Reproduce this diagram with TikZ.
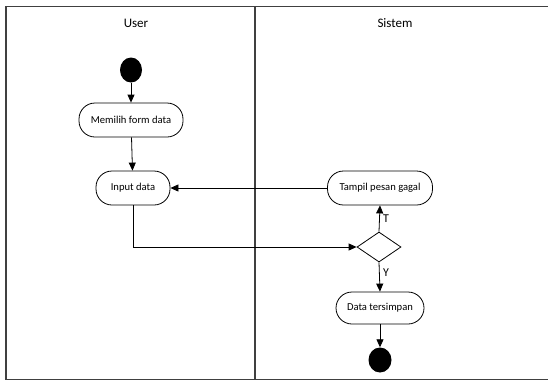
\documentclass[tikz,border=0pt]{standalone}
\usepackage{fontspec}
\setmainfont{Carlito}
\usetikzlibrary{arrows.meta,shapes.geometric}
\begin{document}
\begin{tikzpicture}[x=1pt,y=-1pt,
  lane/.style={draw=black!75,line width=1.3pt},
  act/.style={draw,rounded corners=16pt,line width=0.8pt,minimum height=34pt,
    inner sep=2pt,font=\fontsize{10.6}{12}\selectfont,align=center},
  dot/.style={fill=black,ellipse,inner sep=0pt,minimum width=22pt,minimum height=25pt},
  choice/.style={draw,diamond,aspect=1.47,line width=0.8pt,inner sep=0pt,minimum width=44pt,minimum height=30pt},
  flow/.style={-{Triangle[length=8pt,width=7pt]},line width=0.8pt},
  lbl/.style={font=\fontsize{13}{15}\selectfont},
  tag/.style={font=\fontsize{12}{14}\selectfont}]
\useasboundingbox (0,0) rectangle (548,381);
% swimlanes
\draw[lane] (549,6.5) -- (6,6.5) -- (6,379.5) -- (549,379.5);
\draw[lane] (255,6.5) -- (255,379.5);
\node[lbl] (laneU) at (136,23) {User};
\node[lbl] (laneS) at (395,23) {Sistem};
% nodes
\node[dot] (start) at (131,70) {};
\node[act,minimum width=104pt] (pilih) at (131,120) {Memilih form data};
\node[act,minimum width=74pt] (input) at (133,188) {Input data};
\node[act,minimum width=105pt] (gagal) at (380,188) {Tampil pesan gagal};
\node[choice] (cek) at (379,247) {};
\node[act,minimum width=88pt,minimum height=32pt] (simpan) at (380,308) {Data tersimpan};
\node[dot,minimum width=23pt] (end) at (380,360) {};
% flows
\draw[flow] (start) -- (pilih);
\draw[flow] (pilih) -- (input);
\draw[flow] (input.south) |- (cek.west);
\draw[flow] (gagal) -- (input);
\draw[flow] (cek.north) -- node[tag,right,pos=0.5] {T} (gagal.south);
\draw[flow] (cek.south) -- node[tag,right,pos=0.35] {Y} (simpan.north);
\draw[flow] (simpan) -- (end);
\end{tikzpicture}
\end{document}
